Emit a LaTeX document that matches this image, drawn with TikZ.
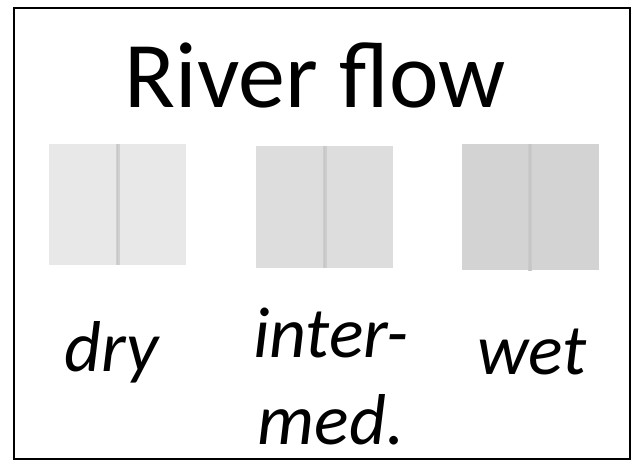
\documentclass[tikz,border=0pt]{standalone}
\usepackage{fontspec}
\setmainfont{Carlito}
\usetikzlibrary{positioning}

\definecolor{dryGray}{HTML}{E8E8E8}
\definecolor{medGray}{HTML}{DDDDDD}
\definecolor{wetGray}{HTML}{D3D3D3}
\definecolor{lineGray}{HTML}{C6C6C6}

\tikzset{
    flowbox/.style={fill=#1, draw=none, minimum width=137pt, inner sep=0pt},
    divider/.style={line width=4pt, draw=lineGray!70!#1},
    dividercore/.style={line width=1.6pt, draw=lineGray},
    flowlabel/.style={font=\itshape\fontsize{72}{87}\selectfont, anchor=base, inner sep=0pt, align=center},
}

\begin{document}
\begin{tikzpicture}[x=1pt,y=-1pt]
    \useasboundingbox (0,0) rectangle (641,462);
    %% frame
    \draw[line width=2pt] (14,8.5) rectangle (629.5,459);
    %% title
    \node[font=\fontsize{94}{112}\selectfont, anchor=base, inner sep=0pt] (title) at (315,108) {River flow};
    %% boxes
    \node[flowbox=dryGray, minimum height=121pt] (dryBox) at (117.5,204.5) {};
    \node[flowbox=medGray, minimum height=122pt] (medBox) at (324.5,207) {};
    \node[flowbox=wetGray, minimum height=126pt] (wetBox) at (530,207.5) {};
    %% dividers
    \foreach \b/\c in {dryBox/dryGray,medBox/medGray,wetBox/wetGray} {
        \draw[divider=\c] (\b.north) -- (\b.south);
        \draw[dividercore] (\b.north) -- (\b.south);
    }
    %% labels
    \node[flowlabel] (dryLabel) at (112,372) {dry};
    \node[flowlabel] (medLabel) at (331,445) {inter-\\med.};
    \node[flowlabel] (wetLabel) at (532,375) {wet};
\end{tikzpicture}
\end{document}
